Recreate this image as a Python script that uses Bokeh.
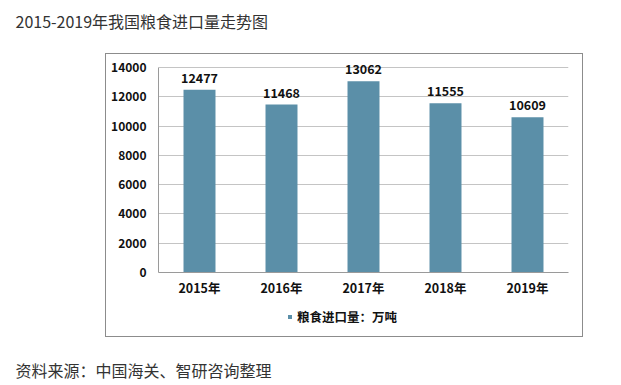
from bokeh.plotting import figure
from bokeh.layouts import column
from bokeh.models import (FactorRange, Range1d, FixedTicker, ColumnDataSource,
                          LabelSet, Label, Legend, LegendItem)
from bokeh.core.properties import value
from bokeh.embed import file_html
from bokeh.resources import INLINE

years = ["2015年", "2016年", "2017年", "2018年", "2019年"]
values = [12477, 11468, 13062, 11555, 10609]
y_ticks = [0, 2000, 4000, 6000, 8000, 10000, 12000, 14000]
title_text = "2015-2019年我国粮食进口量走势图"
source_text = "资料来源：中国海关、智研咨询整理"
legend_text = "粮食进口量：万吨"

BAR = "#5B8FA8"
FONT = "Noto Sans CJK SC"

# headroom above the top tick so the value labels stay inside the plotting area
Y_TOP = y_ticks[-1] * 218 / 205


def bare_fig(w, h, **kw):
    f = figure(width=w, height=h, output_backend="svg", toolbar_location=None,
               x_axis_location=None, y_axis_location=None, min_border=0, **kw)
    f.frame_align = False
    f.grid.visible = False
    f.outline_line_color = None
    f.background_fill_color = "white"
    f.border_fill_color = "white"
    return f


def text_fig(txt, h, y):
    f = bare_fig(605, h)
    f.add_layout(Label(x=15, y=y, x_units="screen", y_units="screen", text=txt,
                       text_font=FONT, text_font_size="16px", text_color="#333333",
                       text_baseline="middle", text_align="left"))
    return f


src = ColumnDataSource(dict(x=years, top=values, lab=[str(v) for v in values]))

# main chart (inside the framed box)
p = figure(x_range=FactorRange(*years), y_range=Range1d(0, Y_TOP),
           width=476, height=250, output_backend="svg", toolbar_location=None,
           min_border_left=52, min_border_right=14, min_border_top=0,
           min_border_bottom=32)
p.frame_align = False
p.outline_line_color = None
p.background_fill_color = "white"
p.border_fill_color = "white"

r = p.vbar(x="x", top="top", width=0.39, source=src, fill_color=BAR, line_color=None)

p.xgrid.grid_line_color = None
p.ygrid.grid_line_color = "#c4c4c4"

p.yaxis.ticker = FixedTicker(ticks=y_ticks)
p.yaxis.bounds = (y_ticks[0], y_ticks[-1])
p.yaxis.axis_line_color = "#9a9a9a"
p.yaxis.major_tick_line_color = None
p.yaxis.minor_tick_line_color = None
p.yaxis.major_tick_out = 0
p.yaxis.minor_tick_out = 0
p.yaxis.major_label_text_font = FONT
p.yaxis.major_label_text_font_style = "bold"
p.yaxis.major_label_text_font_size = "12px"
p.yaxis.major_label_text_color = "#111111"
p.yaxis.major_label_standoff = 12

p.xaxis.axis_line_color = "#9a9a9a"
p.xaxis.major_tick_line_color = None
p.xaxis.minor_tick_line_color = None
p.xaxis.major_tick_out = 0
p.xaxis.minor_tick_out = 0
p.xaxis.major_label_text_font = FONT
p.xaxis.major_label_text_font_style = "bold"
p.xaxis.major_label_text_font_size = "12.5px"
p.xaxis.major_label_text_color = "#111111"
p.xaxis.major_label_standoff = 5

labels = LabelSet(x="x", y="top", text="lab", source=src, text_align="center",
                  text_baseline="bottom", y_offset=7, text_font=value(FONT),
                  text_font_style="bold", text_font_size="12.5px", text_color="#111111")
p.add_layout(labels)

# legend strip (inside the framed box, below the chart); its own bars are hidden
lf = bare_fig(476, 32, x_range=FactorRange(*years), y_range=Range1d(1e6, 1e6 + 1))
lr = lf.vbar(x="x", top="top", width=0.39, source=src, fill_color=BAR, line_color=None)
lr.visible = False
legend = Legend(items=[LegendItem(label=legend_text, renderers=[lr])],
                location=(181, 10), orientation="horizontal",
                padding=0, margin=0, border_line_color=None, background_fill_alpha=0,
                glyph_width=5, glyph_height=5, label_standoff=5, label_height=14,
                label_text_font=FONT, label_text_font_style="bold",
                label_text_font_size="12.5px", label_text_color="#111111")
lf.add_layout(legend)

box = column(p, lf, spacing=0)
box.styles = {"outline": "1px solid #8c8c8c"}
box.margin = (1, 0, 1, 106)

title_fig = text_fig(title_text, 53, 32.5)
foot_fig = text_fig(source_text, 47, 14.5)

layout = column(title_fig, box, foot_fig, spacing=0)
open("out.html", "w").write(file_html(layout, INLINE))
